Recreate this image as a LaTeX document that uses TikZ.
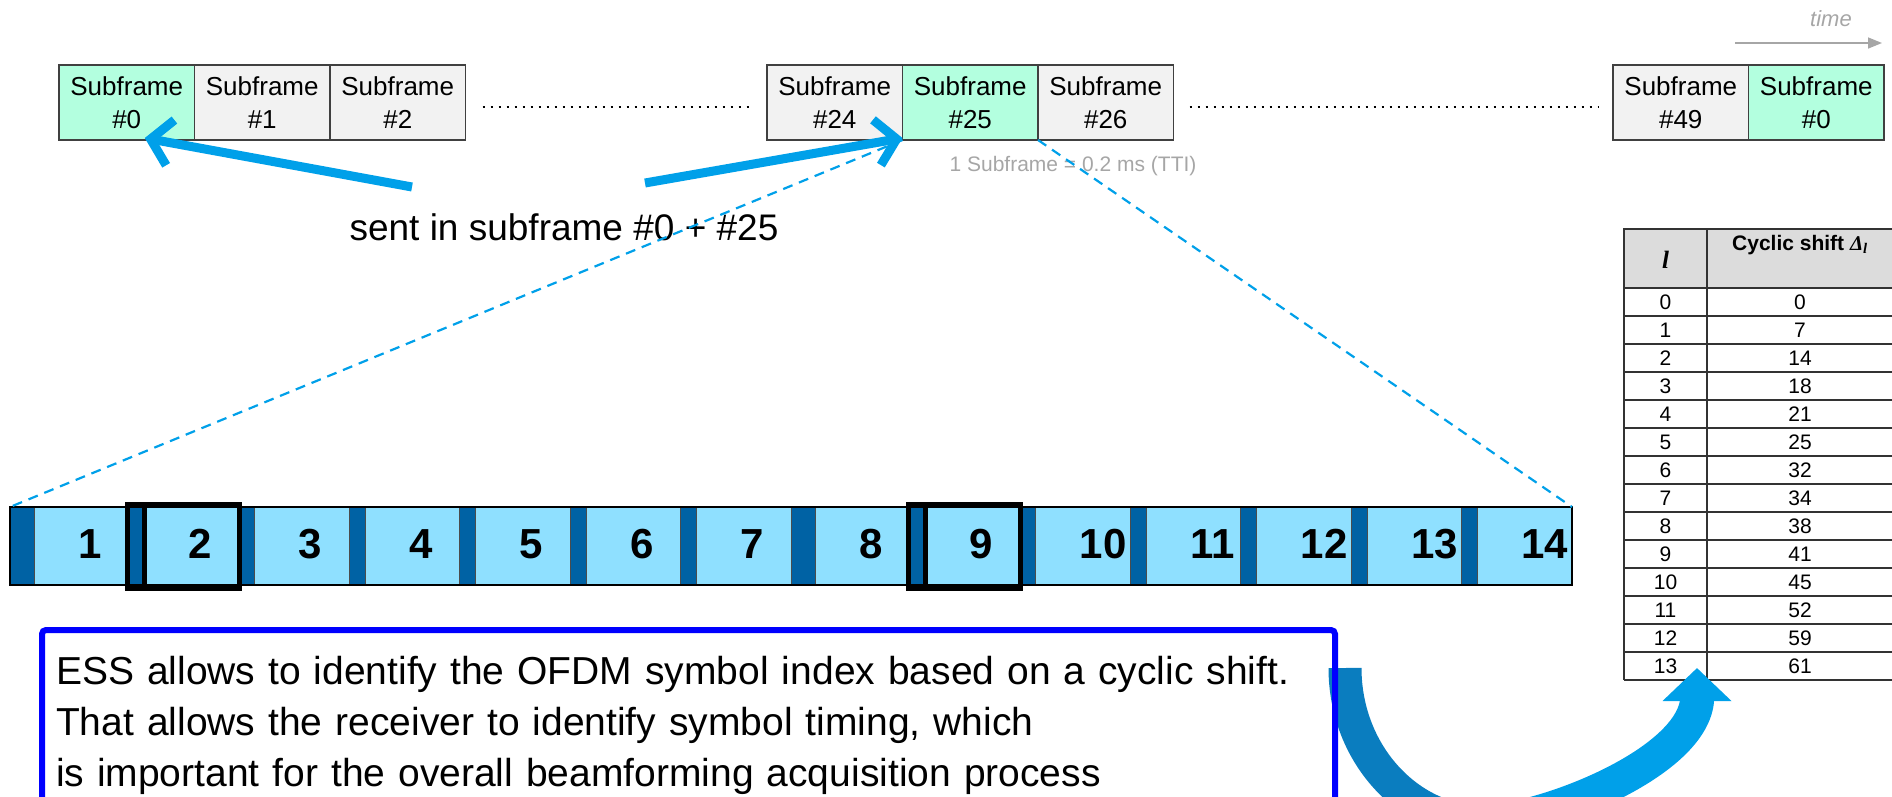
\documentclass[tikz,border=0pt]{standalone}
\usepackage{fontspec}
\setmainfont{Liberation Sans}
\newfontfamily\tblserif{Liberation Serif}
\usetikzlibrary{positioning,calc,arrows.meta}
\definecolor{sfgrey}{HTML}{F2F2F2}
\definecolor{sfgreen}{HTML}{B3FFDF}
\definecolor{linkblue}{HTML}{00A0E9}
\definecolor{cpdark}{HTML}{0062A4}
\definecolor{symlight}{HTML}{8FE0FF}
\definecolor{capgrey}{HTML}{A6A6A6}
\definecolor{boxblue}{HTML}{0000FF}
\definecolor{arcdark}{HTML}{0A7DBF}
\definecolor{arclight}{HTML}{00A0E9}
\definecolor{hdrgrey}{HTML}{DCDCDC}

\begin{document}
\begin{tikzpicture}[x=1pt,y=-1pt,
  every node/.style={inner sep=0pt,outer sep=0pt},
  sub/.style={draw=black!75,line width=1.4pt,fill=sfgrey,minimum width=135.5pt,minimum height=75pt,align=center,font=\fontsize{26}{33}\selectfont},
  subhit/.style={sub,fill=sfgreen},
  dots/.style={line width=2.4pt,dash pattern=on 2.4pt off 5.6pt},
  sendarrow/.style={draw=linkblue,line width=9pt,-{Straight Barb[length=20pt,width=46pt]}},
  zoomline/.style={draw=linkblue,line width=2.2pt,dash pattern=on 10pt off 7pt},
  cpbox/.style={fill=cpdark,draw=black!70,line width=0.8pt,minimum height=78pt,anchor=north west},
  symbox/.style={fill=symlight,draw=black!70,line width=0.8pt,minimum height=78pt,minimum width=94.43pt,anchor=north west},
  symnum/.style={font=\fontsize{42}{42}\selectfont\bfseries,anchor=west},
  hilite/.style={draw=black,line width=5pt},
  cell/.style={font=\fontsize{21}{21}\selectfont}]

\useasboundingbox (0,0) rectangle (1892,796);

% subframes on the time line
\node[subhit] (sf0) at (126.75,102.5) {Subframe\\\#0};
\node[sub,right=0pt of sf0] (sf1) {Subframe\\\#1};
\node[sub,right=0pt of sf1] (sf2) {Subframe\\\#2};
\node[sub] (sf24) at (834.75,102.5) {Subframe\\\#24};
\node[subhit,right=0pt of sf24] (sf25) {Subframe\\\#25};
\node[sub,right=0pt of sf25] (sf26) {Subframe\\\#26};
\node[sub] (sf49) at (1680.75,102.5) {Subframe\\\#49};
\node[subhit,right=0pt of sf49] (sfnext) {Subframe\\\#0};
\draw[dots] ([xshift=17pt,yshift=-4.5pt]sf2.east) -- ([xshift=-17pt,yshift=-4.5pt]sf24.west);
\draw[dots] ([xshift=16pt,yshift=-4.5pt]sf26.east) -- ([xshift=-14pt,yshift=-4.5pt]sf49.west);

\coordinate (t0) at (1735,43);
\coordinate (t1) at (1882,43);
\draw[capgrey,line width=1.5pt,-{Triangle[length=14pt,width=11pt]}] (t0) -- (t1);
\node[text=capgrey,font=\fontsize{22}{22}\selectfont\itshape] (time) at (1831,19) {time};
\node[text=capgrey,font=\fontsize{21}{21}\selectfont] (tti) at (1073,166) {1 Subframe = 0.2 ms (TTI)};

\node[font=\fontsize{37}{37}\selectfont] (sent) at (564,227) {sent in subframe \#0 + \#25};
\coordinate (s0) at (412,187);
\coordinate (s1) at (645,183);
\draw[sendarrow] (s0) -- ([xshift=18pt,yshift=2pt]sf0.south);
\draw[sendarrow] (s1) -- ([yshift=2pt]sf25.south west);

% OFDM symbols of one subframe
\node[fill=symlight,minimum width=1562pt,minimum height=78pt] (bar) at (791,546) {};
\foreach \k in {1,...,14}{
  \pgfmathsetmacro\h{int((\k-1)/7)}
  \pgfmathsetmacro\j{int(mod(\k-1,7))}
  \pgfmathsetmacro\cpw{\j==0 ? 24 : 16}
  \pgfmathsetmacro\xs{10+781*\h+(\j==0 ? 0 : 118.43+(\j-1)*110.43)}
  \node[cpbox,minimum width=\cpw*1pt] (cp\k) at (\xs,507) {};
  \node[symbox] (sym\k) at (\xs+\cpw,507) {};
  \node[symnum] (n\k) at ([xshift=44pt,yshift=2pt]sym\k.west) {\k};
}
\draw[line width=2.5pt] (bar.north west) rectangle (bar.south east);
\draw[hilite] ([shift={(-1pt,3pt)}]cp2.north west) rectangle ([shift={(1pt,-3pt)}]sym2.south east);
\draw[hilite] (cp2.north east) -- (cp2.south east);
\draw[hilite] ([shift={(-1pt,3pt)}]cp9.north west) rectangle ([shift={(1pt,-3pt)}]sym9.south east);
\draw[hilite] (cp9.north east) -- (cp9.south east);

\draw[zoomline] (sf25.south west) -- (bar.north west);
\draw[zoomline] (sf25.south east) -- (bar.north east);

% cyclic shift table
\fill[hdrgrey] (1624,229) rectangle (1892,288);
\node[font=\fontsize{25}{25}\selectfont\tblserif\bfseries\itshape] (hl) at (1665.5,260) {l};
\node[font=\fontsize{21}{21}\selectfont\bfseries] (hd) at (1800,245) {Cyclic shift {\tblserif\itshape Δ\textsubscript{l}}};
\foreach \l/\d [count=\i from 0] in {0/0,1/7,2/14,3/18,4/21,5/25,6/32,7/34,8/38,9/41,10/45,11/52,12/59,13/61}{
  \node[cell] (l\i) at (1665.5,{302+28*\i}) {\l};
  \node[cell] (d\i) at (1800,{302+28*\i}) {\d};
  \draw[black!80,line width=1.3pt] (1624,{288+28*(\i+1)}) -- (1892,{288+28*(\i+1)});
}
\draw[black!80,line width=1.5pt] (1892,229) -- (1624,229) -- (1624,680);
\draw[black!80,line width=1.5pt] (1624,288) -- (1892,288);
\draw[black!80,line width=1.5pt] (1707,229) -- (1707,680);

% curved arrow from text to table
\coordinate (u0) at (1345,668);
\coordinate (u1) at (1482,822);
\coordinate (u2) at (1697,701);
\coordinate (u3) at (1697,668);
\draw[line width=33pt,draw=arcdark] (u0) .. controls (1345,755) and (1410,822) .. (u1);
\draw[line width=34pt,draw=arclight,line join=round,-{Triangle[length=33pt,width=67pt]}] (u1) .. controls (1540,822) and (1690,765) .. (u2) -- (u3);

\node[anchor=north west,text width=1265pt,inner xsep=14pt,inner ysep=26pt,align=left,font=\fontsize{39}{51}\selectfont] (ess) at (42,630) {ESS allows to identify the OFDM symbol index based on a cyclic shift.\\That allows the receiver to identify symbol timing, which\\is important for the overall beamforming acquisition process};
\draw[draw=boxblue,line width=6pt,rounded corners=4pt] ([yshift=-120pt]ess.south west) -- (ess.north west) -- (ess.north east) -- ([yshift=-120pt]ess.south east);
\end{tikzpicture}
\end{document}
